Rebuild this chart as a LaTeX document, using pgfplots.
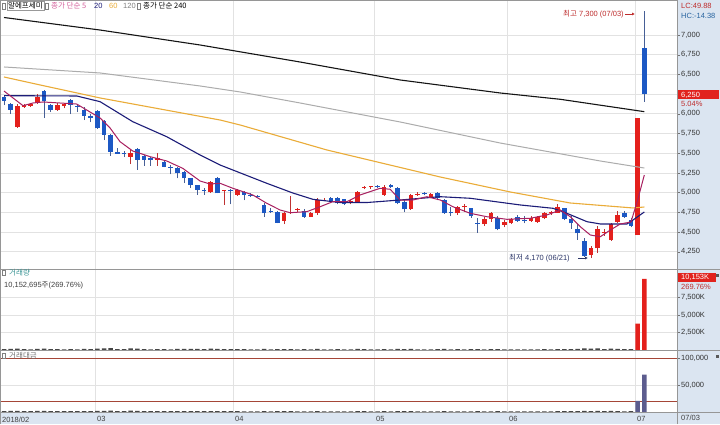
\documentclass[border=0pt]{standalone}
\usepackage{fontspec}
\setmainfont{Liberation Sans}
\newfontfamily\kr{Noto Sans CJK KR}
\usepackage{pgfplots}
\pgfplotsset{compat=1.18}
\usepackage{pgfplotstable}
\usetikzlibrary{arrows.meta}
\newcommand\fs{\fontsize{7.5}{8.5}\selectfont}
\definecolor{upred}{RGB}{228,32,28}
\definecolor{dnblue}{RGB}{28,88,196}
\definecolor{wickred}{RGB}{190,50,50}
\definecolor{wickblue}{RGB}{70,95,150}
\definecolor{ma5}{RGB}{168,32,96}
\definecolor{ma20}{RGB}{28,28,120}
\definecolor{ma60}{RGB}{234,172,56}
\definecolor{ma120}{RGB}{172,172,172}
\definecolor{ma240}{RGB}{20,20,20}
\definecolor{panelblue}{RGB}{219,229,241}
\definecolor{gridc}{RGB}{226,226,226}
\definecolor{sepc}{RGB}{150,150,150}
\definecolor{brownl}{RGB}{165,70,55}
\definecolor{amtc}{RGB}{92,92,142}
\definecolor{pinkl}{RGB}{212,96,156}
\definecolor{annred}{RGB}{190,45,45}
\definecolor{annnavy}{RGB}{45,55,105}
\definecolor{tealc}{RGB}{60,150,150}
\definecolor{hcblue}{RGB}{40,100,160}
\definecolor{boxred}{RGB}{225,35,30}
\definecolor{smallbar}{RGB}{70,70,70}

\pgfplotsset{/pgf/number format/.cd, fixed, 1000 sep={,}, assume math mode=true}
\pgfplotsset{chartaxis/.style={scale only axis, width=677pt, xmin=-0.6, xmax=100.9,
  axis line style={draw=sepc}, xmajorgrids, ymajorgrids,
  grid style={draw=gridc, line width=0.6pt},
  xtick={13.64,34.33,55.47,75.41,94.6}, xticklabels={}, xtick style={draw=none},
  ytick pos=right, yticklabel pos=right, tick align=outside,
  ytick style={draw=black!55}, major tick length=3pt, scaled ticks=false,
  yticklabel style={font=\fs, text=black!80, anchor=west, inner sep=1pt,
    /pgf/number format/fixed, /pgf/number format/1000 sep={,}}},
  candle/.style 2 args={forget plot, draw=none, mark=none,
    error bars/y dir=plus, error bars/y explicit, error bars/error mark=none,
    error bars/error bar style={line width=#1, draw=#2}}}

% up candles: i open high low close
\pgfplotstableread{
i o h l c
2 5830 6125 5825 6100
3 6088 6125 6075 6112
4 6100 6140 6090 6125
5 6135 6250 6125 6215
8 6050 6140 6040 6112
9 6100 6135 6070 6120
19 5456 5540 5360 5500
23 5414 5500 5340 5443
31 5012 5145 5000 5131
33 5020 5035 4843 5032
35 4970 5045 4960 5033
42 4644 4760 4600 4737
43 4740 4957 4730 4752
44 4780 4800 4760 4792
46 4695 4760 4690 4745
47 4735 4930 4720 4910
48 4900 4935 4890 4912
52 4863 4910 4850 4897
53 4885 5025 4870 5012
54 5060 5080 5040 5072
55 5070 5090 5050 5082
57 4970 5100 4960 5067
61 4788 4985 4780 4970
62 4976 5010 4960 4988
64 4950 4995 4940 4985
68 4737 4830 4720 4822
69 4815 4855 4760 4827
72 4601 4690 4580 4662
73 4662 4760 4630 4737
75 4589 4650 4560 4631
76 4610 4680 4600 4662
79 4644 4700 4630 4674
80 4631 4700 4620 4687
81 4674 4760 4660 4745
82 4737 4770 4720 4758
83 4745 4850 4740 4813
88 4208 4320 4170 4293
89 4293 4570 4237 4534
90 4485 4534 4450 4497
91 4398 4615 4390 4601
92 4631 4770 4620 4716
95 4460 5950 4460 5950
}\upc

% down candles
\pgfplotstableread{
i o h l c
0 6210 6240 6110 6160
1 6125 6140 6000 6050
6 6290 6300 5945 6165
7 6112 6130 6020 6050
10 6175 6190 5995 6112
11 6105 6125 6020 6093
12 6050 6090 5920 5975
13 5975 6000 5895 5950
14 6036 6050 5810 5816
15 5908 5920 5667 5731
16 5731 5740 5468 5519
17 5519 5570 5490 5494
18 5500 5530 5450 5488
20 5553 5560 5290 5414
21 5468 5480 5340 5414
22 5435 5450 5340 5414
24 5392 5420 5320 5329
25 5329 5350 5230 5316
26 5308 5320 5180 5245
27 5258 5270 5120 5182
28 5182 5190 5060 5096
29 5096 5100 4970 5033
30 5033 5060 4970 5020
32 5190 5200 4990 4990
34 5030 5040 4850 5018
36 5012 5020 4900 4970
37 4968 4990 4945 4955
38 4960 4975 4940 4948
39 4843 4865 4695 4737
40 4765 4800 4740 4752
41 4758 4770 4610 4618
45 4770 4790 4680 4695
49 4935 4950 4880 4897
50 4927 4940 4850 4863
51 4915 4925 4840 4855
56 5080 5095 5060 5068
58 5096 5110 5060 5067
59 5054 5070 4850 4863
60 4885 4900 4750 4788
63 4990 5005 4965 4978
65 4995 5010 4900 4927
66 4906 4915 4730 4737
67 4758 4820 4700 4740
70 4800 4810 4680 4703
71 4620 4674 4492 4605
74 4674 4700 4520 4534
77 4687 4710 4630 4644
78 4658 4700 4610 4646
84 4800 4810 4650 4662
85 4662 4700 4540 4610
86 4534 4600 4400 4483
87 4390 4430 4185 4195
93 4737 4770 4680 4695
94 4652 4680 4560 4577
96 6830 7300 6150 6250
}\dnc

% volume (K shares) and trading value (million won), small days
\pgfplotstableread{
i v a
0 130 1800
1 150 1900
2 210 2300
3 110 1600
4 100 1500
5 160 1900
6 190 2100
7 120 1600
8 110 1500
9 100 1500
10 140 1700
11 90 1400
12 150 1800
13 110 1500
14 200 2200
15 220 2300
16 260 2500
17 130 1600
18 120 1500
19 250 2400
20 200 2100
21 130 1600
22 100 1400
23 110 1500
24 140 1600
25 100 1400
26 150 1700
27 160 1700
28 170 1800
29 150 1600
30 120 1400
31 180 1800
32 170 1700
33 120 1400
34 110 1400
35 120 1400
36 110 1300
37 90 1200
38 80 1200
39 160 1600
40 100 1300
41 140 1500
42 130 1500
43 140 1500
44 90 1200
45 110 1300
46 100 1300
47 170 1700
48 90 1200
49 100 1300
50 110 1300
51 100 1300
52 90 1200
53 150 1600
54 120 1400
55 100 1300
56 90 1200
57 140 1500
58 100 1300
59 160 1600
60 140 1500
61 160 1600
62 90 1200
63 80 1100
64 90 1200
65 110 1300
66 150 1600
67 100 1300
68 110 1300
69 90 1200
70 110 1300
71 130 1400
72 100 1300
73 110 1300
74 130 1400
75 90 1200
76 100 1300
77 90 1200
78 80 1100
79 90 1200
80 100 1300
81 110 1300
82 90 1200
83 120 1400
84 130 1400
85 120 1400
86 150 1500
87 220 2000
88 180 1700
89 230 2100
90 120 1400
91 200 1900
92 170 1700
93 110 1300
94 130 1400
}\volsmall

\pgfplotstableread{
i v a
95 3764 20700
96 10153 69000
}\volbig

\begin{document}
\begin{tikzpicture}[x=1pt,y=1pt]
\useasboundingbox (0,0) rectangle (720,424);
\fill[white] (0,0) rectangle (720,424);
\fill[panelblue] (677,0) rectangle (720,424);
\fill[panelblue] (0,0) rectangle (677,12);

% ---------------- price pane ----------------
\begin{axis}[chartaxis, at={(0pt,155pt)}, anchor=south west, height=269pt,
  ymin=4030.5, ymax=7444, ytick={4250,4500,...,7000}]
% wicks
\addplot[candle={0.8pt}{wickred}]
  table[x=i, y=l, y error plus expr=\thisrow{h}-\thisrow{l}] {\upc};
\addplot[candle={0.8pt}{wickblue}]
  table[x=i, y=l, y error plus expr=\thisrow{h}-\thisrow{l}] {\dnc};
% bodies
\addplot[candle={4.6pt}{upred}]
  table[x=i, y=o, y error plus expr=\thisrow{c}-\thisrow{o}] {\upc};
\addplot[candle={4.6pt}{dnblue}]
  table[x=i, y=c, y error plus expr=\thisrow{o}-\thisrow{c}] {\dnc};
% moving averages
\addplot[ma240, line width=1.1pt] coordinates {(0,7222) (14.4,7063) (29.4,6873) (44.4,6657) (59.4,6429) (74.4,6264) (83.4,6184) (96,6027)};
\addplot[ma120, line width=1pt] coordinates {(0,6594) (14.4,6518) (29.4,6353) (35.4,6277) (44.4,6137) (59.4,5896) (74.4,5629) (89.4,5401) (96,5312)};
\addplot[ma60, line width=1.1pt] coordinates {(0,6467) (5.4,6366) (14.4,6201) (32.4,5921) (35.4,5858) (48.4,5541) (65.4,5198) (75.9,5008) (84.9,4868) (94.3,4805) (96,4817)};
\addplot[ma20, line width=1.1pt] coordinates {(0,6230) (10.9,6226) (14.4,6154) (19.3,5900) (24.4,5709) (29.4,5477) (32.4,5350) (34.3,5287) (39.4,5118) (43.3,4995) (46.3,4915) (50.4,4874) (54.4,4874) (59.4,4906) (65.4,4948) (69.9,4928) (77.4,4843) (82.3,4801) (84.4,4737) (87.4,4631) (89.4,4602) (93.4,4602) (94.3,4652) (96,4754)};
\addplot[ma5, line width=1pt] coordinates {(0,6289) (2.85,6103) (4.35,6137) (5.85,6150) (10.9,6124) (12.4,6048) (14.4,5947) (15.9,5820) (17.4,5646) (19.3,5528) (21.9,5456) (24.4,5401) (26.8,5308) (29.4,5147) (30.9,5109) (32.4,5118) (34.3,5055) (37.3,4970) (39.4,4864) (41.4,4779) (42.9,4745) (45.4,4758) (47.4,4821) (49.3,4885) (51.4,4885) (53.4,4970) (56.4,5055) (57.9,5042) (59.4,4906) (61.3,4906) (63.4,4948) (65.4,4906) (67.3,4821) (69.9,4737) (72.4,4694) (75.4,4661) (78.9,4674) (81.4,4716) (83.4,4779) (84.9,4694) (86.4,4567) (87.9,4462) (89.4,4440) (90.9,4525) (92.4,4602) (94,4627) (95,4906) (96,5223)};
\end{axis}

% ---------------- volume pane ----------------
\begin{axis}[chartaxis, at={(0pt,74pt)}, anchor=south west, height=81pt,
  ymin=0, ymax=11571, ytick={2500,5000,7500},
  yticklabel={\pgfmathprintnumber[fixed,1000 sep={,}]{\tick}K}]
\addplot[ybar, bar width=4.5pt, bar shift=0pt, fill=smallbar, draw=none] table[x=i, y=v] {\volsmall};
\addplot[ybar, bar width=4.5pt, bar shift=0pt, fill=upred, draw=none] table[x=i, y=v] {\volbig};
\end{axis}

% ---------------- trading value pane ----------------
\begin{axis}[chartaxis, at={(0pt,12pt)}, anchor=south west, height=62pt,
  ymin=0, ymax=114815, ytick={50000,100000},
  xtick={-0.6,13.64,34.33,55.47,75.41,94.6},
  xticklabels={2018/02,03,04,05,06,07},
  xticklabel style={font=\fs, text=black!75, anchor=north west, inner sep=1.5pt, xshift=0.5pt}]
\addplot[brownl, line width=0.8pt] coordinates {(-0.6,100000) (100.9,100000)};
\addplot[brownl, line width=0.8pt] coordinates {(-0.6,19000) (100.9,19000)};
\addplot[ybar, bar width=4.5pt, bar shift=0pt, fill=smallbar, draw=none] table[x=i, y=a] {\volsmall};
\addplot[ybar, bar width=4.5pt, bar shift=0pt, fill=amtc, draw=none] table[x=i, y=a] {\volbig};
\end{axis}

% separators
\draw[sepc, line width=0.8pt] (0,155) -- (720,155);
\draw[sepc, line width=0.8pt] (0,74) -- (720,74);
\draw[sepc, line width=0.6pt] (0,12) -- (720,12);
\draw[sepc, line width=0.6pt] (677,0) -- (677,424);
\draw[sepc, line width=0.6pt] (0.3,0) -- (0.3,424);

% legend row
\draw[gray] (2.5,414.5) rectangle (5,420.5);
\node[draw=gray!80, fill=white, inner sep=1pt, anchor=west, font=\fs\kr] at (7,418) {알에프세미};
\draw[gray] (45.5,414.5) rectangle (48,420.5);
\node[anchor=west, inner sep=0pt, font=\fs\kr, text=pinkl] at (51,418) {종가 단순 5};
\node[anchor=west, inner sep=0pt, font=\fs, text=ma20] at (94,418) {20};
\node[anchor=west, inner sep=0pt, font=\fs, text=ma60] at (109,418) {60};
\node[anchor=west, inner sep=0pt, font=\fs, text=black!50] at (123,418) {120};
\draw[gray] (137.5,414.5) rectangle (140,420.5);
\node[anchor=west, inner sep=0pt, font=\fs\kr, text=black] at (143,418) {종가 단순 240};

% annotations
\node[anchor=west, inner sep=0pt, font=\fs, text=annred] at (563,410) {{\kr 최고} 7,300 (07/03)};
\draw[annred, line width=0.6pt, -{Latex[length=3pt,width=3pt]}] (625,410) -- (635,410);
\node[anchor=west, inner sep=0pt, font=\fs, text=annnavy] at (509,166) {{\kr 최저} 4,170 (06/21)};
\draw[annnavy, line width=0.6pt, -{Latex[length=3pt,width=3pt]}] (578,166) -- (588,166);

% right panel texts
\node[anchor=west, inner sep=0pt, font=\fs, text=annred] at (681,418) {LC:49.88};
\node[anchor=west, inner sep=0pt, font=\fs, text=hcblue] at (681,408) {HC:-14.38};
\fill[boxred] (678,324.5) rectangle (719,333.5);
\node[anchor=west, inner sep=0pt, font=\fs, text=white] at (681,329) {6,250};
\node[anchor=west, inner sep=0pt, font=\fs, text=annred] at (681,320.5) {5.04\%};
\fill[boxred] (678,142) rectangle (716,151);
\node[anchor=west, inner sep=0pt, font=\fs, text=white] at (681,146.5) {10,153K};
\node[anchor=west, inner sep=0pt, font=\fs, text=annred] at (681,137) {269.76\%};
\fill[black!65] (716,147) rectangle (719,150);
\fill[black!65] (716,66) rectangle (719,69);
\node[anchor=west, inner sep=0pt, font=\fs, text=black!75] at (681,6) {07/03};

% pane labels
\draw[gray] (2.5,148.5) rectangle (5,154);
\node[anchor=west, inner sep=0pt, font=\fs\kr, text=tealc] at (9,151.5) {거래량};
\node[anchor=west, inner sep=0pt, font=\fs, text=black!75] at (4,139) {10,152,695{\kr 주}(269.76\%)};
\draw[gray] (2.5,65.5) rectangle (5,71);
\node[anchor=west, inner sep=0pt, font=\fs\kr, text=black!55] at (9,68) {거래대금};
\end{tikzpicture}
\end{document}
